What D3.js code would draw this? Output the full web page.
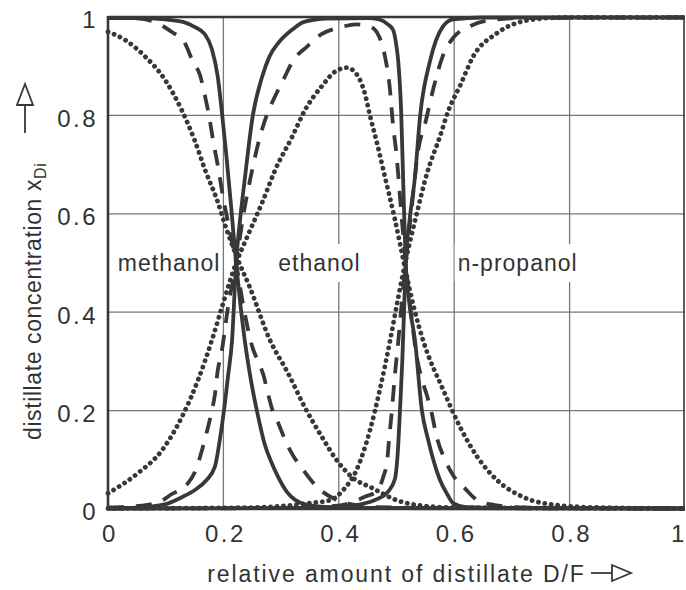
<!DOCTYPE html>
<html>
<head>
<meta charset="utf-8">
<script src="https://cdn.jsdelivr.net/npm/d3@7"></script>
<style>
  body { margin: 0; background: #fff; }
  text { font-family: "Liberation Sans", Arial, sans-serif; fill: #333; }
</style>
</head>
<body>
<div id="chart"></div>
<script>
// Data: [D/F, x_Di] pairs per curve
//

var tick_values = [0, 0.2, 0.4, 0.6, 0.8, 1];
var tick_labels = ["0", "0.2", "0.4", "0.6", "0.8", "1"];
var grid_values = [0.2, 0.4, 0.6, 0.8];

var methanol_solid = [[0,0.998],[0.05,0.998],[0.1,0.995],[0.13,0.99],[0.15,0.98],[0.168,0.965],
  [0.18,0.935],[0.19,0.88],[0.198,0.8],[0.205,0.72],[0.213,0.62],[0.222,0.5],[0.23,0.41],
  [0.237,0.343],[0.248,0.26],[0.258,0.2],[0.272,0.13],[0.285,0.09],[0.295,0.065],[0.31,0.035],
  [0.325,0.018],[0.34,0.01],[0.38,0.004],[0.5,0.002],[1,0.001]];
var ethanol_solid = [[0,0.002],[0.05,0.003],[0.1,0.01],[0.128,0.024],[0.15,0.038],[0.17,0.058],
  [0.185,0.085],[0.195,0.15],[0.201,0.2],[0.208,0.27],[0.215,0.343],[0.222,0.5],[0.23,0.6],
  [0.237,0.67],[0.251,0.8],[0.267,0.878],[0.28,0.92],[0.295,0.947],[0.32,0.975],[0.34,0.99],
  [0.38,0.997],[0.45,0.998],[0.47,0.995],[0.485,0.985],[0.494,0.974],[0.5,0.94],[0.503,0.91],
  [0.508,0.81],[0.512,0.65],[0.516,0.5],[0.522,0.42],[0.532,0.343],[0.544,0.2],[0.555,0.14],
  [0.565,0.095],[0.575,0.06],[0.588,0.03],[0.598,0.012],[0.62,0.004],[0.7,0.002],[1,0.001]];
var propanol_solid = [[0,0.001],[0.3,0.002],[0.4,0.004],[0.44,0.01],[0.466,0.02],[0.485,0.035],
  [0.497,0.06],[0.503,0.13],[0.506,0.2],[0.51,0.3],[0.513,0.4],[0.516,0.5],[0.522,0.58],
  [0.532,0.675],[0.541,0.8],[0.558,0.91],[0.58,0.98],[0.598,0.995],[0.65,0.999],[1,0.999]];

var methanol_dashed = [[0,0.998],[0.05,0.997],[0.08,0.99],[0.11,0.97],[0.133,0.947],[0.147,0.91],
  [0.16,0.88],[0.168,0.84],[0.175,0.8],[0.182,0.75],[0.19,0.7],[0.2,0.63],[0.212,0.56],
  [0.222,0.5],[0.235,0.41],[0.25,0.33],[0.26,0.3],[0.27,0.27],[0.277,0.236],[0.284,0.205],
  [0.295,0.175],[0.307,0.14],[0.32,0.11],[0.338,0.08],[0.362,0.045],[0.39,0.022],[0.42,0.01],
  [0.46,0.004],[0.6,0.002],[1,0.001]];
var ethanol_dashed = [[0,0.003],[0.05,0.006],[0.09,0.015],[0.11,0.03],[0.137,0.05],[0.154,0.085],
  [0.163,0.12],[0.172,0.16],[0.18,0.2],[0.185,0.23],[0.19,0.28],[0.197,0.32],[0.208,0.41],
  [0.222,0.5],[0.235,0.6],[0.25,0.69],[0.263,0.755],[0.275,0.8],[0.29,0.84],[0.305,0.875],
  [0.32,0.91],[0.345,0.94],[0.37,0.965],[0.4,0.978],[0.43,0.985],[0.455,0.98],[0.47,0.96],
  [0.48,0.92],[0.488,0.86],[0.494,0.78],[0.5,0.72],[0.507,0.62],[0.516,0.5],[0.525,0.4],
  [0.535,0.31],[0.545,0.26],[0.553,0.23],[0.56,0.2],[0.57,0.145],[0.584,0.1],[0.6,0.065],
  [0.62,0.04],[0.64,0.018],[0.67,0.008],[0.72,0.003],[1,0.001]];
var propanol_dashed = [[0,0.001],[0.3,0.002],[0.38,0.005],[0.42,0.012],[0.445,0.025],[0.465,0.035],
  [0.477,0.065],[0.484,0.1],[0.487,0.14],[0.492,0.2],[0.497,0.27],[0.503,0.34],[0.51,0.43],
  [0.516,0.5],[0.527,0.62],[0.537,0.725],[0.55,0.785],[0.564,0.855],[0.58,0.92],[0.6,0.96],
  [0.625,0.98],[0.66,0.993],[0.72,0.998],[1,0.999]];

var methanol_dotted = [[0,0.97],[0.03,0.953],[0.064,0.92],[0.099,0.872],[0.128,0.81],[0.15,0.75],
  [0.168,0.69],[0.189,0.628],[0.205,0.57],[0.224,0.51],[0.246,0.45],[0.28,0.345],[0.312,0.276],
  [0.341,0.207],[0.371,0.146],[0.399,0.095],[0.428,0.06],[0.454,0.045],[0.5,0.018],
  [0.55,0.006],[0.6,0.003],[1,0.001]];
var ethanol_dotted = [[0,0.032],[0.052,0.073],[0.094,0.12],[0.128,0.187],[0.156,0.262],[0.18,0.343],
  [0.2,0.42],[0.222,0.5],[0.24,0.55],[0.269,0.628],[0.29,0.69],[0.319,0.756],[0.341,0.81],
  [0.371,0.86],[0.395,0.89],[0.414,0.897],[0.43,0.885],[0.445,0.845],[0.454,0.8],[0.467,0.74],
  [0.48,0.675],[0.497,0.59],[0.513,0.5],[0.53,0.41],[0.546,0.343],[0.581,0.242],[0.61,0.167],
  [0.64,0.106],[0.674,0.059],[0.72,0.024],[0.778,0.008],[0.85,0.003],[1,0.001]];
var propanol_dotted = [[0,0.001],[0.25,0.003],[0.3,0.006],[0.35,0.012],[0.385,0.018],[0.408,0.039],
  [0.431,0.08],[0.454,0.16],[0.471,0.242],[0.489,0.343],[0.503,0.43],[0.515,0.5],[0.535,0.6],
  [0.553,0.683],[0.575,0.756],[0.59,0.81],[0.61,0.86],[0.633,0.92],[0.674,0.967],[0.731,0.994],
  [0.79,0.999],[1,0.999]];

var component_labels = [["methanol", 0.017, 0.5], ["ethanol", 0.295, 0.5], ["n-propanol", 0.606, 0.5]];

// Layout
//

var width = 686, height = 590;
var plot = { left: 108, right: 685, top: 17, bottom: 509 };
var ink = "#383838";

var x = d3.scaleLinear().domain([0, 1]).range([plot.left, plot.right]);
var y = d3.scaleLinear().domain([0, 1]).range([plot.bottom, plot.top]);

var svg = d3.select("#chart").append("svg")
  .attr("width", width)
  .attr("height", height);

// grid
svg.append("g").selectAll("line.v")
  .data(grid_values).enter().append("line")
  .attr("x1", function(d) { return x(d); }).attr("x2", function(d) { return x(d); })
  .attr("y1", plot.top).attr("y2", plot.bottom)
  .attr("stroke", "#777").attr("stroke-width", 1.3);
svg.append("g").selectAll("line.h")
  .data(grid_values).enter().append("line")
  .attr("y1", function(d) { return y(d); }).attr("y2", function(d) { return y(d); })
  .attr("x1", plot.left).attr("x2", plot.right)
  .attr("stroke", "#777").attr("stroke-width", 1.3);

// component names, on a white patch so the grid stops behind them
var labels = svg.append("g");
component_labels.forEach(function(c) {
  var t = labels.append("text")
    .attr("x", x(c[1])).attr("y", y(c[2]))
    .attr("dy", "0.35em")
    .style("font-size", "23px")
    .style("letter-spacing", "1px")
    .text(c[0]);
  var bb = t.node().getBBox();
  labels.insert("rect", "text")
    .attr("x", bb.x - 3).attr("y", bb.y - 6)
    .attr("width", bb.width + 4).attr("height", bb.height + 12)
    .attr("fill", "#fff");
});

// curves
var line = d3.line()
  .x(function(d) { return x(d[0]); })
  .y(function(d) { return y(d[1]); })
  .curve(d3.curveMonotoneX);

var curves = [
  [methanol_dotted, "dotted"], [ethanol_dotted, "dotted"], [propanol_dotted, "dotted"],
  [methanol_dashed, "dashed"], [ethanol_dashed, "dashed"], [propanol_dashed, "dashed"],
  [methanol_solid, "solid"], [ethanol_solid, "solid"], [propanol_solid, "solid"]
];

curves.forEach(function(c) {
  var p = svg.append("path")
    .attr("d", line(c[0]))
    .attr("fill", "none")
    .attr("stroke", ink);
  if (c[1] == "solid") {
    p.attr("stroke-width", 3.8);
  } else if (c[1] == "dashed") {
    p.attr("stroke-width", 3.8).attr("stroke-dasharray", "16,12");
  } else {
    p.attr("stroke-width", 4.8).attr("stroke-dasharray", "0.1,6.4").attr("stroke-linecap", "round");
  }
});

// frame
svg.append("line").attr("x1", plot.left).attr("x2", plot.left)
  .attr("y1", plot.top - 1).attr("y2", plot.bottom + 1)
  .attr("stroke", ink).attr("stroke-width", 2.6);
svg.append("line").attr("x1", plot.left).attr("x2", plot.right)
  .attr("y1", plot.bottom).attr("y2", plot.bottom)
  .attr("stroke", ink).attr("stroke-width", 2.6);
svg.append("line").attr("x1", plot.left).attr("x2", plot.right)
  .attr("y1", plot.top).attr("y2", plot.top)
  .attr("stroke", ink).attr("stroke-width", 2.4);
svg.append("line").attr("x1", plot.right - 1).attr("x2", plot.right - 1)
  .attr("y1", plot.top).attr("y2", plot.bottom)
  .attr("stroke", ink).attr("stroke-width", 1.6);

// tick labels; the last x label sits at the window edge, so pull it in a little
svg.append("g").selectAll("text")
  .data(tick_values).enter().append("text")
  .attr("x", function(d) { return d == 1 ? x(d) - 6 : x(d) + 2; })
  .attr("y", plot.bottom + 33)
  .attr("text-anchor", "middle")
  .style("font-size", "24px")
  .style("letter-spacing", "2.5px")
  .text(function(d, i) { return tick_labels[i]; });

svg.append("g").selectAll("text")
  .data(tick_values).enter().append("text")
  .attr("x", plot.left - 10)
  .attr("y", function(d) { return y(d) + 3; })
  .attr("dy", "0.35em")
  .attr("text-anchor", "end")
  .style("font-size", "24px")
  .style("letter-spacing", "2.5px")
  .text(function(d, i) { return tick_labels[i]; });

// axis titles with open arrow heads
svg.append("text")
  .attr("x", (plot.left + plot.right) / 2)
  .attr("y", 582)
  .attr("text-anchor", "middle")
  .style("font-size", "23px")
  .style("letter-spacing", "1.9px")
  .text("relative amount of distillate D/F");

svg.append("line").attr("x1", 591).attr("x2", 612).attr("y1", 573).attr("y2", 573)
  .attr("stroke", ink).attr("stroke-width", 1.8);
svg.append("path").attr("d", "M612,565L631,573L612,581Z")
  .attr("fill", "#fff").attr("stroke", ink).attr("stroke-width", 1.8);

var yt = svg.append("text")
  .attr("transform", "translate(41,440) rotate(-90)")
  .attr("text-anchor", "start")
  .style("font-size", "23px")
  .style("letter-spacing", "0.6px");
yt.append("tspan").text("distillate concentration x");
yt.append("tspan").attr("dy", 5).style("font-size", "16px").text("Di");

svg.append("line").attr("x1", 25).attr("x2", 25).attr("y1", 133).attr("y2", 105)
  .attr("stroke", ink).attr("stroke-width", 1.8);
svg.append("path").attr("d", "M17,105L25,84L33,105Z")
  .attr("fill", "#fff").attr("stroke", ink).attr("stroke-width", 1.8);
</script>
</body>
</html>
